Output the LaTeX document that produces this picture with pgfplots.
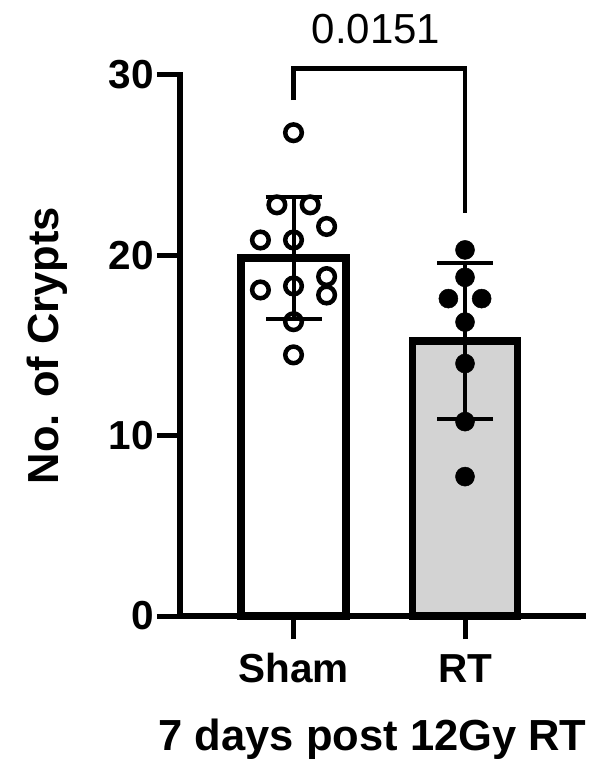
\documentclass[border=0pt]{standalone}
\usepackage{fontspec}
\setmainfont{Liberation Sans}
\usepackage{pgfplots}
\pgfplotsset{compat=1.18}
\definecolor{rtgray}{RGB}{211,211,211}
\begin{document}
\begin{tikzpicture}
% page frame, 1pt = 1px of the reference
\path (-180pt,-146pt) rectangle (421pt,616pt);
\begin{axis}[
    at={(0,0)}, anchor=south west,
    scale only axis, width=403pt, height=541pt,
    xmin=-0.662, xmax=1.688, ymin=0, ymax=30,
    axis lines=left,
    axis line style={-, line width=6.5pt, line cap=rect},
    xtick={0,1}, xticklabels={Sham,RT},
    ytick={0,10,20,30},
    tick align=outside, major tick length=23pt,
    tick style={line width=5pt, black},
    ticklabel style={font=\fontsize{40.5}{48}\selectfont\bfseries, inner sep=0pt},
    xticklabel style={anchor=base, yshift=-43pt},
    yticklabel style={anchor=east, xshift=-3pt},
    /pgf/number format/assume math mode=true,
    xlabel={7 days post 12Gy RT},
    ylabel={No. of Crypts},
    label style={font=\fontsize{43.5}{50}\selectfont\bfseries, inner sep=0pt},
    xlabel style={at={(axis description cs:0.478,-0.2477)}, anchor=base},
    ylabel style={at={(axis description cs:-0.302,0.5)}, anchor=base, rotate=0},
    clip=false,
]
% Sham bar, mean +- SD
\addplot[ybar, bar width=105pt, bar shift=0pt, draw=black, fill=white, line width=7.3pt,
    error bars/.cd, y dir=both, y explicit, error mark=|,
    error bar style={line width=4pt, black},
    error mark options={line width=4pt, mark size=28pt, black}]
    coordinates {(0,19.85) +- (0,3.4)};
% RT bar, mean +- SD
\addplot[ybar, bar width=105pt, bar shift=0pt, draw=black, fill=rtgray, line width=7.3pt,
    error bars/.cd, y dir=both, y explicit, error mark=|,
    error bar style={line width=4pt, black},
    error mark options={line width=4pt, mark size=28pt, black}]
    coordinates {(1,15.25) +- (0,4.35)};
% individual animals
\addplot[only marks, mark=o, mark size=8.3pt, line width=4.5pt, black]
    coordinates {
    (0,26.8) (-0.097,22.8) (0.097,22.8) (0.193,21.6)
    (-0.193,20.85) (0,20.85) (-0.193,18.08) (0,18.3)
    (0.193,18.82) (0.193,17.8) (0,16.32) (0,14.48)};
\addplot[only marks, mark=*, mark size=9.5pt, line width=0.5pt, black, fill=black]
    coordinates {
    (1,20.3) (1,18.78) (0.903,17.6) (1.097,17.6)
    (1,16.3) (1,14.0) (1,10.78) (1,7.73)};
% significance bracket
\draw[line width=4.5pt] (axis cs:0,28.6) -- (axis cs:0,30.35) -- (axis cs:1,30.35) -- (axis cs:1,22.35);
\node[anchor=base, inner sep=0pt, font=\fontsize{42}{50}\selectfont] at (axis cs:0.481,31.76) {0.0151};
\end{axis}
\end{tikzpicture}
\end{document}
